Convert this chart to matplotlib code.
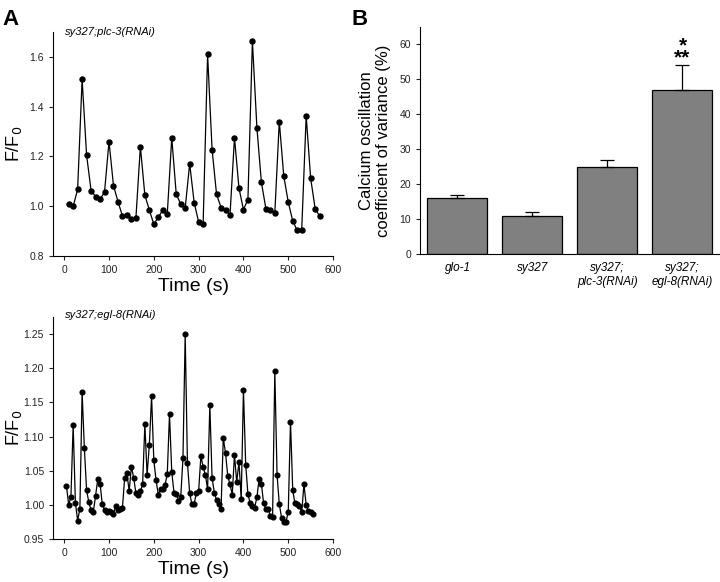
import matplotlib
matplotlib.use('Agg')
import matplotlib.pyplot as plt

plt.rcParams['font.family'] = ['Liberation Sans', 'DejaVu Sans']

# panel A, top trace: sy327;plc-3(RNAi)
time_plc = [10, 20, 30, 40, 50, 60, 70, 80, 90, 100, 110, 120, 130, 140, 150,
            160, 170, 180, 190, 200, 210, 220, 230, 240, 250, 260, 270, 280,
            290, 300, 310, 320, 330, 340, 350, 360, 370, 380, 390, 400, 410,
            420, 430, 440, 450, 460, 470, 480, 490, 500, 510, 520, 530, 540,
            550, 560, 570]
ratio_plc = [1.01, 1.00, 1.068, 1.51, 1.205, 1.063, 1.039, 1.028, 1.057, 1.26,
             1.083, 1.019, 0.961, 0.967, 0.947, 0.952, 1.24, 1.045, 0.985,
             0.928, 0.956, 0.985, 0.968, 1.275, 1.049, 1.009, 0.993, 1.171,
             1.015, 0.937, 0.928, 1.61, 1.228, 1.048, 0.995, 0.984, 0.965,
             1.275, 1.073, 0.987, 1.027, 1.663, 1.316, 1.097, 0.991, 0.984,
             0.973, 1.34, 1.121, 1.017, 0.941, 0.903, 0.904, 1.363, 1.112,
             0.991, 0.96]

# panel A, bottom trace: sy327;egl-8(RNAi)
time_egl = [5, 10, 15, 20, 25, 30, 35, 40, 45, 50, 55, 60, 65, 70, 75, 80, 85,
            90, 95, 100, 105, 110, 115, 120, 125, 130, 135, 140, 145, 150, 155,
            160, 165, 170, 175, 180, 185, 190, 195, 200, 205, 210, 215, 220,
            225, 230, 235, 240, 245, 250, 255, 260, 265, 270, 275, 280, 285,
            290, 295, 300, 305, 310, 315, 320, 325, 330, 335, 340, 345, 350,
            355, 360, 365, 370, 375, 380, 385, 390, 395, 400, 405, 410, 415,
            420, 425, 430, 435, 440, 445, 450, 455, 460, 465, 470, 475, 480,
            485, 490, 495, 500, 505, 510, 515, 520, 525, 530, 535, 540, 545,
            550, 555]
ratio_egl = [1.028, 1.000, 1.011, 1.117, 1.003, 0.977, 0.994, 1.165, 1.083,
             1.021, 1.004, 0.992, 0.990, 1.013, 1.038, 1.031, 1.001, 0.993,
             0.990, 0.991, 0.989, 0.986, 0.999, 0.992, 0.994, 0.996, 1.040,
             1.046, 1.020, 1.056, 1.040, 1.017, 1.014, 1.020, 1.030, 1.118,
             1.044, 1.088, 1.159, 1.065, 1.036, 1.015, 1.023, 1.023, 1.029,
             1.045, 1.133, 1.048, 1.018, 1.016, 1.006, 1.011, 1.068, 1.250,
             1.062, 1.017, 1.001, 1.001, 1.018, 1.020, 1.071, 1.056, 1.044,
             1.023, 1.146, 1.039, 1.018, 1.007, 1.001, 0.994, 1.098, 1.076,
             1.042, 1.030, 1.015, 1.073, 1.033, 1.063, 1.008, 1.168, 1.059,
             1.016, 1.002, 0.999, 0.996, 1.011, 1.038, 1.031, 1.002, 0.994,
             0.994, 0.984, 0.982, 1.196, 1.044, 1.001, 0.981, 0.975, 0.975,
             0.990, 1.122, 1.021, 1.002, 1.001, 0.999, 0.989, 1.030, 1.000,
             0.991, 0.989, 0.987]

# panel B
strains = ['glo-1', 'sy327', 'sy327;\nplc-3(RNAi)', 'sy327;\negl-8(RNAi)']
cv_mean = [16, 11, 25, 47]
cv_err = [1, 1, 2, 7]

fig = plt.figure(figsize=(7.2, 5.82), dpi=100)


def style_trace_axes(ax):
    for side in ['top', 'right']:
        ax.spines[side].set_visible(False)
    ax.spines['left'].set_linewidth(0.8)
    ax.spines['bottom'].set_linewidth(0.8)
    ax.tick_params(direction='out', length=3, width=0.8, labelsize=7.5,
                   colors='#222222')
    ax.set_xlim(-25, 600)
    ax.set_xticks([0, 100, 200, 300, 400, 500, 600])
    ax.set_xlabel('Time (s)', fontsize=14, labelpad=2)
    ax.set_ylabel('F/F$_0$', fontsize=13)
    # same horizontal spot for both labels, like the reference
    ax.yaxis.set_label_coords(-0.105, 0.5)


ax1 = fig.add_axes([0.0736, 0.560, 0.389, 0.385])
ax1.plot(time_plc, ratio_plc, '-o', color='black', lw=0.9, markersize=3.6)
style_trace_axes(ax1)
ax1.set_ylim(0.8, 1.7)
ax1.set_yticks([0.8, 1.0, 1.2, 1.4, 1.6])
ax1.yaxis.set_major_formatter(matplotlib.ticker.FormatStrFormatter('%.1f'))
ax1.text(0.043, 1.0, 'sy327;plc-3(RNAi)', transform=ax1.transAxes,
         fontsize=8, style='italic', va='center', ha='left')

ax2 = fig.add_axes([0.0736, 0.074, 0.389, 0.381])
ax2.plot(time_egl, ratio_egl, '-o', color='black', lw=0.9, markersize=3.4)
style_trace_axes(ax2)
ax2.set_ylim(0.95, 1.275)
ax2.set_yticks([0.95, 1.00, 1.05, 1.10, 1.15, 1.20, 1.25])
ax2.yaxis.set_major_formatter(matplotlib.ticker.FormatStrFormatter('%.2f'))
ax2.text(0.043, 1.01, 'sy327;egl-8(RNAi)', transform=ax2.transAxes,
         fontsize=8, style='italic', va='center', ha='left')

ax3 = fig.add_axes([0.5833, 0.5636, 0.4167, 0.390])
x = range(len(strains))
ax3.bar(x, cv_mean, width=0.8, color='#808080', edgecolor='black',
        linewidth=0.9)
ax3.errorbar(x, cv_mean, yerr=[[0] * len(cv_err), cv_err], fmt='none',
             ecolor='black', elinewidth=0.9, capsize=5, capthick=0.9)
for side in ['top', 'right']:
    ax3.spines[side].set_visible(False)
ax3.set_xlim(-0.5, 3.5)
ax3.set_ylim(0, 65)
ax3.set_yticks([0, 10, 20, 30, 40, 50, 60])
ax3.set_xticks(list(x))
ax3.set_xticklabels(strains, fontsize=8.5, style='italic')
ax3.tick_params(axis='x', length=0, pad=6)
ax3.tick_params(axis='y', direction='out', length=3, labelsize=7.5,
                colors='#222222')
ax3.set_ylabel('Calcium oscillation\ncoefficient of variance (%)',
               fontsize=12, labelpad=6)
ax3.text(3, cv_mean[3] + cv_err[3] - 0.6, '*\n**', ha='center', va='bottom',
         fontsize=15, fontweight='bold', linespacing=0.55)

fig.text(0.004, 0.985, 'A', fontsize=16, fontweight='bold', va='top')
fig.text(0.488, 0.985, 'B', fontsize=16, fontweight='bold', va='top')

fig.savefig('out.png', dpi=100)
